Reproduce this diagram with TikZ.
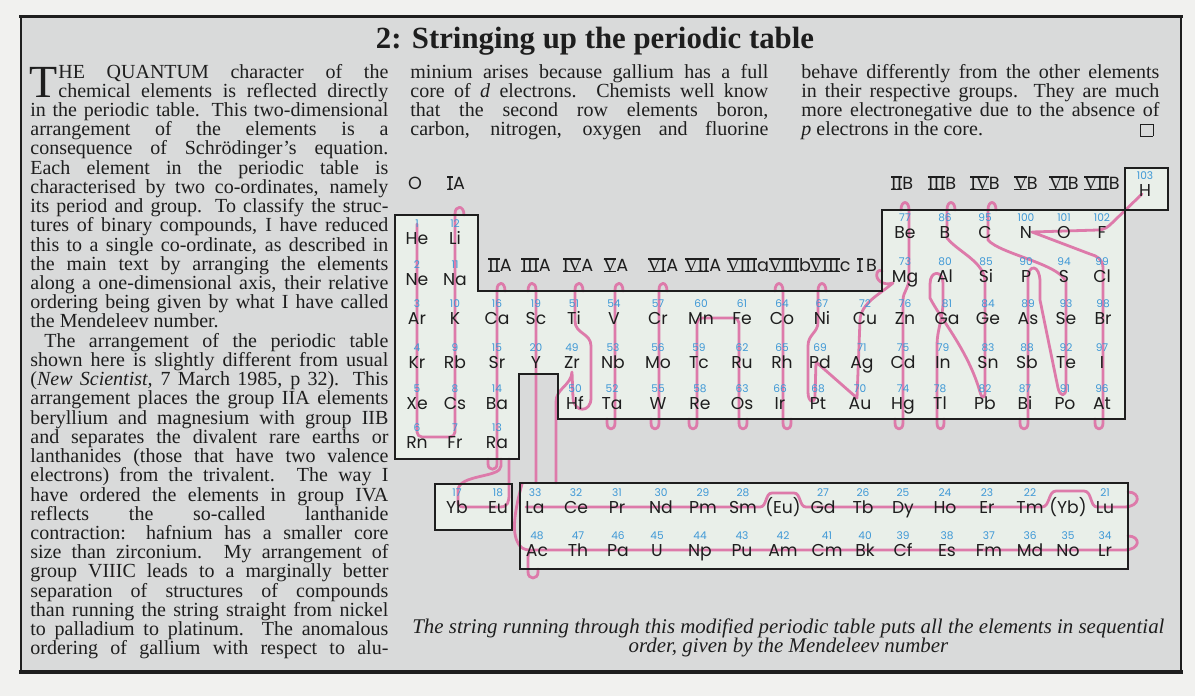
\documentclass[tikz,border=0pt]{standalone}
\usepackage{fontspec}
\setmainfont{Liberation Serif}
\newfontfamily\tabfont{Poppins}
\definecolor{pagec}{HTML}{F1F1EF}
\definecolor{panel}{HTML}{D9DADA}
\definecolor{boxc}{HTML}{E9EFE9}
\definecolor{strc}{HTML}{DD7AAA}
\definecolor{numc}{HTML}{3E98D6}
\definecolor{ink}{HTML}{1E1E1E}
\pgfdeclarelayer{bgl}\pgfdeclarelayer{strl}\pgfsetlayers{bgl,strl,main}
\newcommand\rnum[1]{{\rmfamily\setbox0\hbox{#1}\rlap{\rule[-0.5pt]{\wd0}{0.6pt}}\rlap{\rule[\dimexpr\ht0-0.05pt\relax]{\wd0}{0.6pt}}\box0}}
\newcommand\JL[1]{\hbox to\hsize{#1}}
\newcommand\RL[1]{\hbox to\hsize{#1\hfil}}
\newcommand\bodyfont{\fontsize{10pt}{9.615pt}\selectfont\lineskiplimit=-100pt\lineskip=0pt}
\newcommand\capfont{\fontsize{10.45pt}{9.615pt}\selectfont\lineskiplimit=-100pt\lineskip=0pt}
\newcommand\dropcap{\rlap{\smash{\raisebox{-9.615pt}{\fontsize{23pt}{23pt}\selectfont T}}}\hskip14.5pt}
\tikzset{
  sym/.style={font=\tabfont\fontsize{8.6pt}{9pt}\selectfont, inner sep=0pt, text=ink, anchor=base},
  num/.style={font=\tabfont\fontsize{5.3pt}{6pt}\selectfont, inner sep=0pt, text=numc, anchor=base},
  grp/.style={font=\tabfont\fontsize{8.8pt}{10pt}\selectfont, inner sep=0pt, text=ink, anchor=base},
  str/.style={draw=strc, line width=1.4pt, line cap=round, line join=round},
  tline/.style={draw=ink, line width=1.15pt, line join=miter},
  txt/.style={inner sep=0pt, anchor=base west, text=ink}
}
\begin{document}
\begin{tikzpicture}[x=0.5pt,y=-0.5pt]
\useasboundingbox (0,0) rectangle (1195,696);
\begin{pgfonlayer}{bgl}
\fill[pagec] (0,0) rectangle (1195,696);
\fill[panel] (21,16) rectangle (1181,672);
\fill[boxc] (395,215) -- (478,215) -- (478,291) -- (882,291) -- (882,210) -- (1125,210) -- (1125,419) -- (558,419) -- (558,374) -- (519,374) -- (519,459) -- (395,459) -- cycle;
\fill[boxc] (1125,168) rectangle (1168,210);
\fill[boxc] (435,484) rectangle (512,530);
\fill[boxc] (520,483) rectangle (1128,569);
\end{pgfonlayer}
% frame
\draw[ink,line width=1.5pt] (19,16) -- (1183,16);
\draw[ink,line width=0.7pt] (21,16) -- (21,672);
\draw[ink,line width=0.7pt] (1181,16) -- (1181,672);
\draw[ink,line width=2pt] (19,672) -- (1183,672);
% title
\node[inner sep=0pt, anchor=base, text=ink, font=\bfseries\fontsize{15.4pt}{16pt}\selectfont] (title) at (595,48) {2: Stringing up the periodic table};
% column 1 (with drop cap)
\node[txt] (col1) at (29,78) {\begin{minipage}[t]{179.5pt}\bodyfont
\JL{\dropcap HE QUANTUM character of the}
\JL{\hskip14.5pt chemical elements is reflected directly}
\JL{\hskip0.5pt in the periodic table. This two-dimensional}
\JL{\hskip0.5pt arrangement of the elements is a}
\JL{\hskip0.5pt consequence of Schrödinger’s equation.}
\JL{\hskip0.5pt Each element in the periodic table is}
\JL{\hskip0.5pt characterised by two co-ordinates, namely}
\JL{\hskip0.5pt its period and group. To classify the struc-}
\JL{\hskip0.5pt tures of binary compounds, I have reduced}
\JL{\hskip0.5pt this to a single co-ordinate, as described in}
\JL{\hskip0.5pt the main text by arranging the elements}
\JL{\hskip0.5pt along a one-dimensional axis, their relative}
\JL{\hskip0.5pt ordering being given by what I have called}
\RL{\hskip0.5pt the Mendeleev number.}
\JL{\hskip7.5pt The arrangement of the periodic table}
\JL{\hskip0.5pt shown here is slightly different from usual}
\JL{\hskip0.5pt (\textit{New Scientist,} 7 March 1985, p 32). This}
\JL{\hskip0.5pt arrangement places the group IIA elements}
\JL{\hskip0.5pt beryllium and magnesium with group IIB}
\JL{\hskip0.5pt and separates the divalent rare earths or}
\JL{\hskip0.5pt lanthanides (those that have two valence}
\JL{\hskip0.5pt electrons) from the trivalent. The way I}
\JL{\hskip0.5pt have ordered the elements in group IVA}
\JL{\hskip0.5pt reflects the so-called lanthanide}
\JL{\hskip0.5pt contraction: hafnium has a smaller core}
\JL{\hskip0.5pt size than zirconium. My arrangement of}
\JL{\hskip0.5pt group VIIIC leads to a marginally better}
\JL{\hskip0.5pt separation of structures of compounds}
\JL{\hskip0.5pt than running the string straight from nickel}
\JL{\hskip0.5pt to palladium to platinum. The anomalous}
\JL{\hskip0.5pt ordering of gallium with respect to alu-}
\end{minipage}};
% column 2
\node[txt] (col2) at (410,78) {\begin{minipage}[t]{179pt}\bodyfont
\JL{minium arises because gallium has a full}
\JL{core of \textit{d} electrons. Chemists well know}
\JL{that the second row elements boron,}
\JL{carbon, nitrogen, oxygen and fluorine}
\end{minipage}};
% column 3
\node[txt] (col3) at (801,78) {\begin{minipage}[t]{179pt}\bodyfont
\JL{behave differently from the other elements}
\JL{in their respective groups. They are much}
\JL{more electronegative due to the absence of}
\JL{\textit{p} electrons in the core.\hfil{\setlength\fboxsep{0pt}\setlength\fboxrule{0.45pt}\fbox{\rule{0pt}{5.6pt}\hspace{5.6pt}}}\hspace{3pt}}
\end{minipage}};
% caption
\node[txt] (caption) at (398,633) {\begin{minipage}[t]{390pt}\capfont\centering\itshape
The string running through this modified periodic table puts all the elements in sequential\\
order, given by the Mendeleev number
\end{minipage}};
% string
\begin{pgfonlayer}{strl}
\draw[str,rounded corners=2.5pt] (417,224) -- (417,437) -- (455,437) -- (455,214);
\draw[str] (455,214) .. controls (455,205) and (464,205) .. (464,215);
\draw[str] (488,459) -- (488,464) .. controls (488,471) and (497,471) .. (497,464) -- (497,290) .. controls (497,281) and (505,281) .. (505,291);
\draw[str] (501,459) -- (501,466) .. controls (501,478) and (459,474) .. (458,490) -- (458,502) .. controls (458,506) and (460,507) .. (464,507) -- (500,507) .. controls (508,507) and (509,502) .. (509,494) -- (509,459);
\draw[str] (528,291) .. controls (528,281) and (536,281) .. (536,290) -- (536,483);
\draw[str] (1128,492) .. controls (1141,492) and (1141,507) .. (1124,507) -- (1097,507) .. controls (1090,507) and (1092,491) .. (1084,491) -- (1056,491) .. controls (1048,491) and (1050,507) .. (1042,507) -- (806,507) .. controls (799,507) and (801,493) .. (794,493) -- (772,493) .. controls (765,493) and (767,507) .. (760,507) -- (526,507);
\draw[str] (522,484) .. controls (517,502) and (511,528) .. (517,541) .. controls (520,548) and (524,550) .. (530,550);
\draw[str] (1128,536) .. controls (1141,536) and (1141,550) .. (1124,550) -- (533,550) .. controls (529,550) and (528,553) .. (528,558) -- (528,572) .. controls (528,580) and (538,580) .. (538,572) -- (538,569);
\draw[str] (556,483) -- (556,402) .. controls (556,388) and (571,386) .. (572,372) -- (573,398) .. controls (574,413) and (591,413) .. (591,398) -- (591,346) .. controls (591,333) and (575,334) .. (575,321) -- (575,290) .. controls (575,281) and (583,281) .. (583,291);
\draw[str] (607,419) -- (607,423) .. controls (607,431) and (615,431) .. (615,423) -- (615,290) .. controls (615,281) and (623,281) .. (623,291);
\draw[str] (651,419) -- (651,423) .. controls (651,431) and (659,431) .. (659,423) -- (659,290) .. controls (659,281) and (667,281) .. (667,291);
\draw[str,rounded corners=2.5pt] (697,423) -- (697,318) -- (739,318) -- (739,423);
\draw[str] (689,419) -- (689,423) .. controls (689,431) and (697,431) .. (697,423);
\draw[str] (739,423) .. controls (739,431) and (747,431) .. (747,423) -- (747,419);
\draw[str] (775,291) .. controls (775,281) and (783,281) .. (783,291) -- (783,423) .. controls (783,431) and (791,431) .. (791,423) -- (791,419);
\draw[str] (826,291) .. controls (826,281) and (818,281) .. (818,291) -- (818,322) .. controls (818,333) and (808,334) .. (808,346) -- (808,392) .. controls (808,403) and (815,404) .. (815,396) -- (816,362) -- (857,398) -- (860,320) .. controls (861,303) and (880,294) .. (893,283) .. controls (883,286) and (875,280) .. (877,273) .. controls (878,270) and (881,270) .. (882,271);
\draw[str] (895,419) -- (895,423) .. controls (895,431) and (903,431) .. (903,423) -- (903,300) .. controls (903,292) and (909,288) .. (909,278) -- (909,210) .. controls (909,200) and (901,200) .. (901,210);
\draw[str] (944,419) -- (944,423) .. controls (944,431) and (937,431) .. (937,423) -- (937,345) .. controls (937,330) and (943,318) .. (943,302) -- (943,283) .. controls (943,270) and (930,270) .. (930,284) -- (930,298) .. controls (940,318) and (968,350) .. (980,392) .. controls (982,399) and (985,399) .. (985,392) -- (985,282) .. controls (985,262) and (958,252) .. (947,238) -- (947,210) .. controls (947,200) and (955,200) .. (955,210);
\draw[str] (1020,419) -- (1020,423) .. controls (1020,431) and (1028,431) .. (1028,423) -- (1028,278) .. controls (1028,264) and (1040,264) .. (1040,282) -- (1040,300) -- (1058,388) .. controls (1060,397) and (1066,397) .. (1066,388) -- (1066,282) .. controls (1060,264) and (1000,254) .. (988,240) -- (988,210) .. controls (988,200) and (996,200) .. (996,210);
\draw[str] (1095,419) -- (1095,423) .. controls (1095,431) and (1103,431) .. (1103,423) -- (1103,268) .. controls (1103,259) and (1097,256) .. (1090,254) -- (1032,232) -- (1098,230) .. controls (1104,230) and (1108,227) .. (1112,223) -- (1142,194);
\end{pgfonlayer}
% box outlines
\draw[tline] (395,215) -- (478,215) -- (478,291) -- (882,291) -- (882,210) -- (1125,210) -- (1125,419) -- (558,419) -- (558,374) -- (519,374) -- (519,459) -- (395,459) -- cycle;
\draw[tline] (1125,168) rectangle (1168,210);
\draw[tline] (435,484) rectangle (512,530);
\draw[tline] (520,483) rectangle (1128,569);
% group labels
\node[grp] (gO) at (415,189) {O};
\node[grp] (gIA) at (456,189) {\rnum{I}A};
\foreach \g/\t/\x in {gIIA/\rnum{II}A/500, gIIIA/\rnum{III}A/536, gIVA/\rnum{IV}A/578, gVA/\rnum{V}A/616, gVIA/\rnum{VI}A/663, gVIIA/\rnum{VII}A/703, gVIIIa/\rnum{VIII}a/748, gVIIIb/\rnum{VIII}b/790, gVIIIc/\rnum{VIII}c/830, gIB/\rnum{I}\,B/867}
  {\node[grp] (\g) at (\x,271) {\t};}
\foreach \g/\t/\x in {gIIB/\rnum{II}B/902, gIIIB/\rnum{III}B/942, gIVB/\rnum{IV}B/985, gVB/\rnum{V}B/1026, gVIB/\rnum{VI}B/1064, gVIIB/\rnum{VII}B/1102}
  {\node[grp] (\g) at (\x,189) {\t};}
% elements
\foreach \s/\n/\x/\y in {He/1/417/238, Li/12/455/238, Be/77/905/232, B/86/945/232, C/95/985/232, N/100/1026/232, O/101/1064/232, F/102/1102/232,
 Ne/2/417/279, Na/11/455/279, Mg/73/905/276, Al/80/945/276, Si/85/986/276, P/90/1026/276, S/94/1064/276, Cl/99/1102/276,
 Ar/3/417/318, K/10/455/318, Ca/16/497/318, Sc/19/536/318, Ti/51/574/318, V/54/614/318, Cr/57/658/318, Mn/60/701/318, Fe/61/742/318, Co/64/782/318, Ni/67/822/318, Cu/72/865/318, Zn/76/905/318, Ga/81/947/318, Ge/84/988/318, As/89/1028/318, Se/93/1066/318, Br/98/1103/318,
 Kr/4/417/362, Rb/9/455/362, Sr/15/497/362, Y/20/536/362, Zr/49/572/362, Nb/53/613/362, Mo/56/658/362, Tc/59/699/362, Ru/62/742/362, Rh/65/782/362, Pd/69/820/362, Ag/71/862/362, Cd/75/903/362, In/79/943/362, Sn/83/988/362, Sb/88/1027/362, Te/92/1066/362, I/97/1102/362,
 Xe/5/417/403, Cs/8/455/403, Ba/14/497/403, Hf/50/575/403, Ta/52/612/403, W/55/658/403, Re/58/700/403, Os/63/742/403, Ir/66/780/403, Pt/68/818/403, Au/70/860/403, Hg/74/903/403, Tl/78/940/403, Pb/82/985/403, Bi/87/1025/403, Po/91/1065/403, At/96/1102/403,
 Rn/6/417/442, Fr/7/455/442, Ra/13/497/442, H/103/1145/190,
 Yb/17/457/507, Eu/18/498/507, La/33/535/507, Ce/32/576/507, Pr/31/617/507, Nd/30/661/507, Pm/29/703/507, Sm/28/743/507, Gd/27/823/507, Tb/26/863/507, Dy/25/903/507, Ho/24/945/507, Er/23/987/507, Tm/22/1030/507, Lu/21/1105/507,
 Ac/48/537/550, Th/47/578/550, Pa/46/618/550, U/45/657/550, Np/44/700/550, Pu/43/742/550, Am/42/783/550, Cm/41/827/550, Bk/40/865/550, Cf/39/903/550, Es/38/947/550, Fm/37/989/550, Md/36/1030/550, No/35/1068/550, Lr/34/1105/550}
 {\node[sym] (\s) at (\x,{\y+6}) {\s}; \node[num] (n\s) at (\x,{\y-11}) {\n};}
\node[sym] (pEu) at (783,513) {(Eu)};
\node[sym] (pYb) at (1068,513) {(Yb)};
\end{tikzpicture}
\end{document}
